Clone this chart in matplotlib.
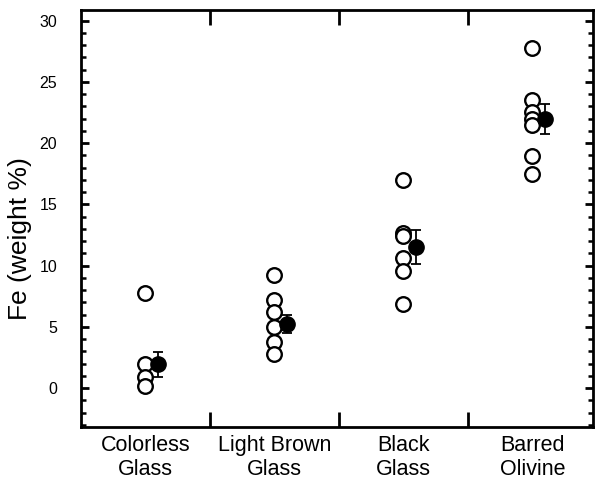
import numpy as np
import matplotlib.pyplot as plt
from matplotlib.ticker import MultipleLocator

plt.rcParams['font.family'] = ['Liberation Sans', 'DejaVu Sans']

# 类别与数据
categories = ['Colorless\nGlass', 'Light Brown\nGlass', 'Black\nGlass', 'Barred\nOlivine']
points = [
    [7.75, 1.95, 0.95, 0.15],
    [9.2, 7.2, 6.2, 5.0, 3.8, 2.75],
    [17.0, 12.65, 12.4, 10.65, 9.6, 6.85],
    [27.8, 23.5, 22.55, 21.95, 21.5, 18.95, 17.5],
]
means = [1.95, 5.22, 11.53, 21.96]
errs = [1.0, 0.75, 1.4, 1.25]

fig = plt.figure(figsize=(5.95, 4.79), dpi=100)
ax = fig.add_axes([0.136, 0.109, 0.8606, 0.871])

x = np.arange(1, len(categories) + 1)
for xi, vals in zip(x, points):
    ax.plot([xi] * len(vals), vals, 'o', mfc='white', mec='black',
            mew=1.7, ms=10.5, zorder=3)
ax.errorbar(x + 0.1, means, yerr=errs, fmt='o', color='black', ms=11,
            elinewidth=1.3, capsize=3.5, capthick=1.3, zorder=4)

ax.set_xlim(0.5, 4.47)
ax.set_ylim(-3.15, 30.9)
ax.set_xticks([1.5, 2.5, 3.5])
ax.set_xticklabels([])
ax.set_xticks(x, minor=True)
ax.set_xticklabels(categories, minor=True, fontsize=15.5, linespacing=1.2)
ax.tick_params(axis='x', which='minor', length=0, pad=6)
ax.tick_params(axis='x', which='major', direction='in', length=11,
               width=2, top=True, bottom=True)

ax.yaxis.set_major_locator(MultipleLocator(5))
ax.yaxis.set_minor_locator(MultipleLocator(1))
ax.tick_params(axis='y', which='major', direction='in', length=6,
               width=2, left=True, right=True, labelsize=11.5, pad=17)
ax.tick_params(axis='y', which='minor', direction='in', length=3.5,
               width=1.8, left=True, right=True)

for sp in ax.spines.values():
    sp.set_linewidth(2)

ax.set_ylabel('Fe (weight %)', fontsize=19)
ax.yaxis.set_label_coords(-0.095, 0.45)

fig.savefig('out.png', dpi=100)
